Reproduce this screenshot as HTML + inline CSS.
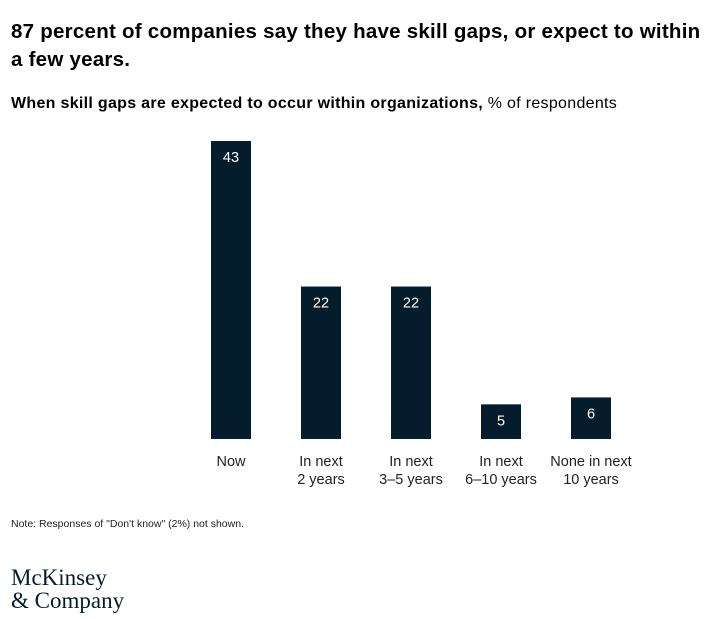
<!DOCTYPE html>
<html><head><meta charset="utf-8"><style>
body{margin:0;width:719px;height:619px;background:#fff;font-family:"Liberation Sans",sans-serif;color:#000;position:relative;overflow:hidden}
.t{position:absolute;left:11px;top:18px;font-size:20.5px;font-weight:bold;line-height:28px;width:705px;letter-spacing:0.25px;white-space:nowrap}
.s{position:absolute;left:11px;top:95px;font-size:16px;letter-spacing:0.3px}
.n{position:absolute;left:11px;top:518px;font-size:10.5px;color:#222}
.logo{position:absolute;left:11px;top:566px;font-family:"Liberation Serif",serif;font-size:23px;line-height:23px;color:#051c2c;letter-spacing:0}
svg{position:absolute;left:0;top:0}
</style></head><body>
<div class="t">87 percent of companies say they have skill gaps, or expect to within<br>a few years.</div>
<div class="s"><b>When skill gaps are expected to occur within organizations,</b> % of respondents</div>
<svg id="c" width="719" height="619"></svg>
<div class="n">Note: Responses of "Don't know" (2%) not shown.</div>
<div class="logo">McKinsey<br>&amp; Company</div>
<script>
const categories=[["Now"],["In next","2 years"],["In next","3–5 years"],["In next","6–10 years"],["None in next","10 years"]];
const values=[43,22,22,5,6];
const svg=document.getElementById('c');
const NS='http://www.w3.org/2000/svg';
const base=439,scale=298/43;
const x=i=>231+i*90;
const y=v=>base-v*scale;
values.forEach((v,i)=>{
 const r=document.createElementNS(NS,'rect');
 r.setAttribute('x',x(i)-20);r.setAttribute('width',40);
 r.setAttribute('y',y(v));r.setAttribute('height',base-y(v));
 r.setAttribute('fill','#051c2c');
 
 
 svg.appendChild(r);
 const t=document.createElementNS(NS,'text');
 t.setAttribute('x',x(i));t.setAttribute('y',y(v)+21);
 t.setAttribute('text-anchor','middle');t.setAttribute('fill','#fff');
 t.setAttribute('font-size','14.5');t.textContent=v;
 
 
 svg.appendChild(t);
 categories[i].forEach((l,j)=>{
  const c=document.createElementNS(NS,'text');
  c.setAttribute('x',x(i));c.setAttribute('y',466+j*18);
  c.setAttribute('text-anchor','middle');c.setAttribute('font-size','14.5');
  c.setAttribute('fill','#222');c.textContent=l;
  
  
  svg.appendChild(c);
 });
});
</script>
</body></html>
